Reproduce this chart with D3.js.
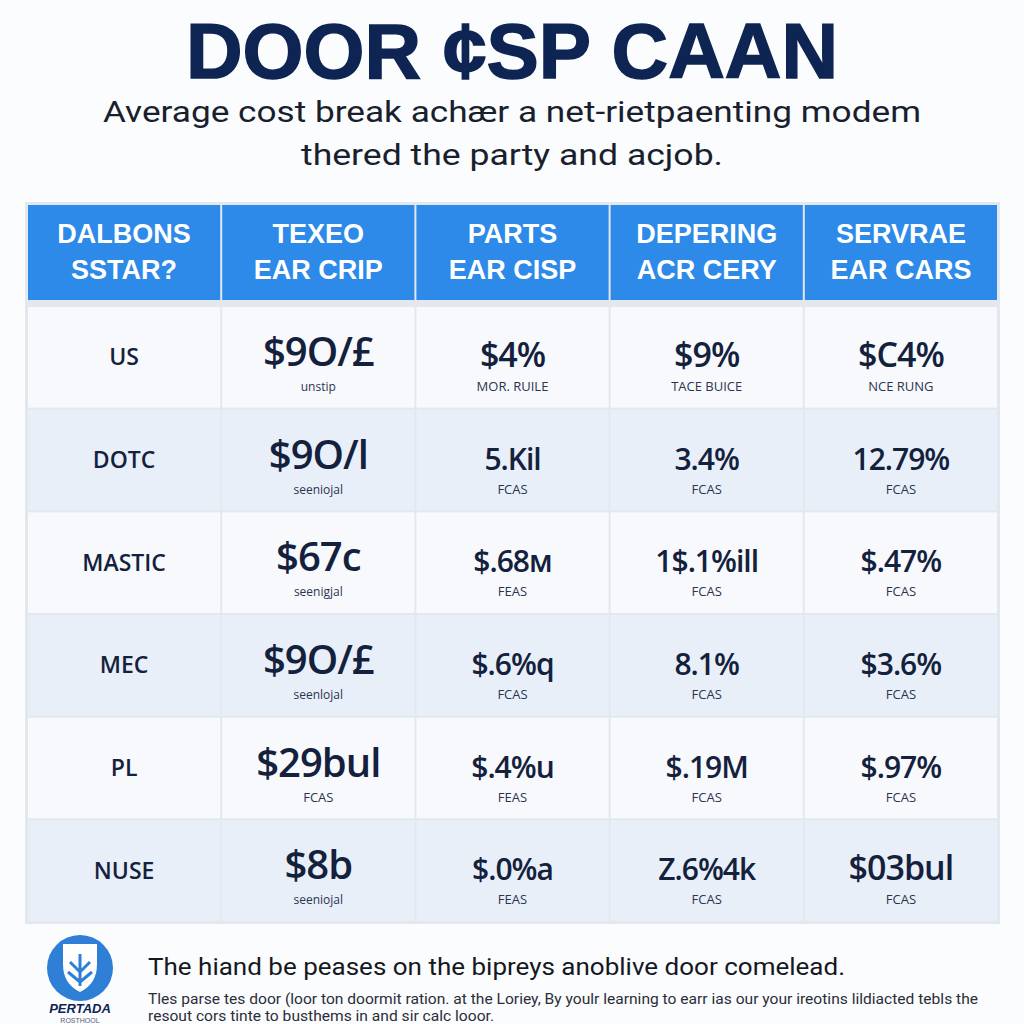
<!DOCTYPE html>
<html>
<head>
<meta charset="utf-8">
<script src="https://cdn.jsdelivr.net/npm/d3@7"></script>
<style>
  body { margin: 0; background: #fbfcfe; }
  svg { display: block; }
</style>
</head>
<body>
<script>
// table content
const columns = ["label", "texeo", "parts", "depering", "servrae"];
const headerTop = ["DALBONS", "TEXEO", "PARTS", "DEPERING", "SERVRAE"];
const headerBottom = ["SSTAR?", "EAR CRIP", "EAR CISP", "ACR CERY", "EAR CARS"];
const rowLabels = ["US", "DOTC", "MASTIC", "MEC", "PL", "NUSE"];

const texeoValues = ["$9O/£", "$9O/l", "$67c", "$9O/£", "$29bul", "$8b"];
const texeoNotes = ["unstip", "seeniojal", "seenigjal", "seenlojal", "FCAS", "seeniojal"];
const partsValues = ["$4%", "5.Kil", "$.68м", "$.6%q", "$.4%u", "$.0%a"];
const partsNotes = ["MOR. RUILE", "FCAS", "FEAS", "FCAS", "FEAS", "FEAS"];
const deperingValues = ["$9%", "3.4%", "1$.1%ill", "8.1%", "$.19M", "Z.6%4k"];
const deperingNotes = ["TACE BUICE", "FCAS", "FCAS", "FCAS", "FCAS", "FCAS"];
const servraeValues = ["$C4%", "12.79%", "$.47%", "$3.6%", "$.97%", "$03bul"];
const servraeNotes = ["NCE RUNG", "FCAS", "FCAS", "FCAS", "FCAS", "FCAS"];

const title = "DOOR ¢SP CAAN";
const subtitle = ["Average cost break achær a net-rietpaenting modem", "thered the party and acjob."];
const footHead = "The hiand be peases on the bipreys anoblive door comelead.";
const footBody = [
  "Tles parse tes door (loor ton doormit ration. at the Loriey, By youlr learning to earr ias our your ireotins lildiacted tebls the",
  "resout cors tinte to busthems in and sir calc looor."
];

const W = 1024, H = 1024;
const navy = "#0e2452";
const ink = "#14213d";

const svg = d3.select("body").append("svg")
  .attr("width", W)
  .attr("height", H);

svg.append("rect").attr("width", W).attr("height", H).attr("fill", "#fbfcfe");

// title + subtitle
svg.append("text")
  .attr("x", 512).attr("y", 78)
  .attr("text-anchor", "middle")
  .attr("font-family", "Liberation Sans, Arial, sans-serif")
  .attr("font-weight", 900)
  .attr("font-size", 78)
  .attr("stroke", navy)
  .attr("stroke-width", 1.5)
  .attr("fill", navy)
  .attr("textLength", 652)
  .attr("lengthAdjust", "spacingAndGlyphs")
  .text(title);

svg.selectAll(".sub")
  .data(subtitle)
  .enter().append("text")
  .attr("class", "sub")
  .attr("x", 512)
  .attr("y", (d, i) => 122 + i * 43)
  .attr("text-anchor", "middle")
  .attr("font-family", "Roboto, sans-serif")
  .attr("font-size", 30)
  .attr("fill", "#1a1f2e")
  .attr("textLength", (d, i) => i === 0 ? 818 : 422)
  .attr("lengthAdjust", "spacingAndGlyphs")
  .text(d => d);

// table scales
const x = d3.scaleBand().domain(columns).range([27, 998]);
const y = d3.scaleBand().domain(rowLabels).range([306, 922]);
const headerY = [205, 300];

// frame
svg.append("rect")
  .attr("x", 25).attr("y", 202)
  .attr("width", 975).attr("height", 722)
  .attr("fill", "#e3e8ef");

// header
const head = svg.append("g");
head.selectAll("rect")
  .data(columns)
  .enter().append("rect")
  .attr("x", d => x(d) + 1)
  .attr("y", headerY[0])
  .attr("width", x.bandwidth() - 2)
  .attr("height", headerY[1] - headerY[0])
  .attr("fill", "#2e8ae8");

head.selectAll(".h1")
  .data(columns)
  .enter().append("text")
  .attr("x", d => x(d) + x.bandwidth() / 2)
  .attr("y", 243)
  .text((d, i) => headerTop[i]);
head.selectAll(".h2")
  .data(columns)
  .enter().append("text")
  .attr("x", d => x(d) + x.bandwidth() / 2)
  .attr("y", 279)
  .text((d, i) => headerBottom[i]);
head.selectAll("text")
  .attr("text-anchor", "middle")
  .attr("font-family", "Liberation Sans, Arial, sans-serif")
  .attr("font-weight", "bold")
  .attr("font-size", 27)
  .attr("fill", "#ffffff");

// body rows
const valueCols = [
  { key: "texeo", values: texeoValues, notes: texeoNotes },
  { key: "parts", values: partsValues, notes: partsNotes },
  { key: "depering", values: deperingValues, notes: deperingNotes },
  { key: "servrae", values: servraeValues, notes: servraeNotes }
];

const rows = svg.selectAll(".row")
  .data(rowLabels)
  .enter().append("g")
  .attr("class", "row")
  .attr("transform", d => `translate(0,${y(d)})`);

rows.selectAll("rect")
  .data(columns)
  .enter().append("rect")
  .attr("x", d => x(d) + 1)
  .attr("y", 1)
  .attr("width", x.bandwidth() - 2)
  .attr("height", y.bandwidth() - 2)
  .attr("fill", function () {
    const r = rowLabels.indexOf(d3.select(this.parentNode).datum());
    return r % 2 === 0 ? "#f7f9fc" : "#e8eff8";
  });

rows.append("text")
  .attr("x", x("label") + x.bandwidth() / 2)
  .attr("y", y.bandwidth() / 2 + 8)
  .attr("text-anchor", "middle")
  .attr("font-family", "Open Sans, sans-serif")
  .attr("font-weight", 600)
  .attr("font-size", 23)
  .attr("fill", ink)
  .text(d => d);

valueCols.forEach((col, ci) => {
  rows.append("text")
    .attr("x", x(col.key) + x.bandwidth() / 2)
    .attr("y", ci === 0 ? 60 : 61)
    .attr("text-anchor", "middle")
    .attr("font-family", "Open Sans, sans-serif")
    .attr("font-weight", 600)
    .attr("font-size", (d, i) => ci === 0 ? 40 : (i === 0 || col.values[i].startsWith("$0")) ? 34 : 30)
    .attr("letter-spacing", -1)
    .attr("fill", ink)
    .text((d, i) => col.values[i]);

  rows.append("text")
    .attr("x", x(col.key) + x.bandwidth() / 2)
    .attr("y", 85)
    .attr("text-anchor", "middle")
    .attr("font-family", "Open Sans, sans-serif")
    .attr("font-size", (d, i) => /[a-z]/.test(col.notes[i]) ? 12 : 13)
    .attr("fill", "#2a3550")
    .text((d, i) => col.notes[i]);
});

// footer logo
const logo = svg.append("g").attr("transform", "translate(80,968)");
logo.append("circle").attr("r", 33).attr("fill", "#2f7fd6");
logo.append("path")
  .attr("d", "M-17,-24 L17,-24 L17,-4 Q17,16 0,24 Q-17,16 -17,-4 Z")
  .attr("fill", "#ffffff");
logo.append("path")
  .attr("d", "M0,-14 L0,18 M-10,-6 L0,4 L10,-6 M-12,4 L0,14 L12,4")
  .attr("stroke", "#2f7fd6")
  .attr("stroke-width", 3)
  .attr("fill", "none");
svg.append("text")
  .attr("x", 80).attr("y", 1013)
  .attr("text-anchor", "middle")
  .attr("font-family", "Liberation Sans, Arial, sans-serif")
  .attr("font-weight", "bold")
  .attr("font-style", "italic")
  .attr("font-size", 13)
  .attr("fill", navy)
  .text("PERTADA");
svg.append("text")
  .attr("x", 80).attr("y", 1023)
  .attr("text-anchor", "middle")
  .attr("font-family", "Liberation Sans, Arial, sans-serif")
  .attr("font-size", 7)
  .attr("fill", "#55607a")
  .text("ROSTHOOL");

// footer text
svg.append("text")
  .attr("x", 148).attr("y", 975)
  .attr("font-family", "Roboto, sans-serif")
  .attr("font-size", 24)
  .attr("fill", "#15181f")
  .attr("textLength", 697)
  .attr("lengthAdjust", "spacingAndGlyphs")
  .text(footHead);

svg.selectAll(".foot")
  .data(footBody)
  .enter().append("text")
  .attr("class", "foot")
  .attr("x", 148)
  .attr("y", (d, i) => 1004 + i * 17)
  .attr("font-family", "Roboto, sans-serif")
  .attr("font-size", 14)
  .attr("fill", "#2a2e38")
  .attr("textLength", (d, i) => i === 0 ? 830 : 346)
  .attr("lengthAdjust", "spacingAndGlyphs")
  .text(d => d);
</script>
</body>
</html>
